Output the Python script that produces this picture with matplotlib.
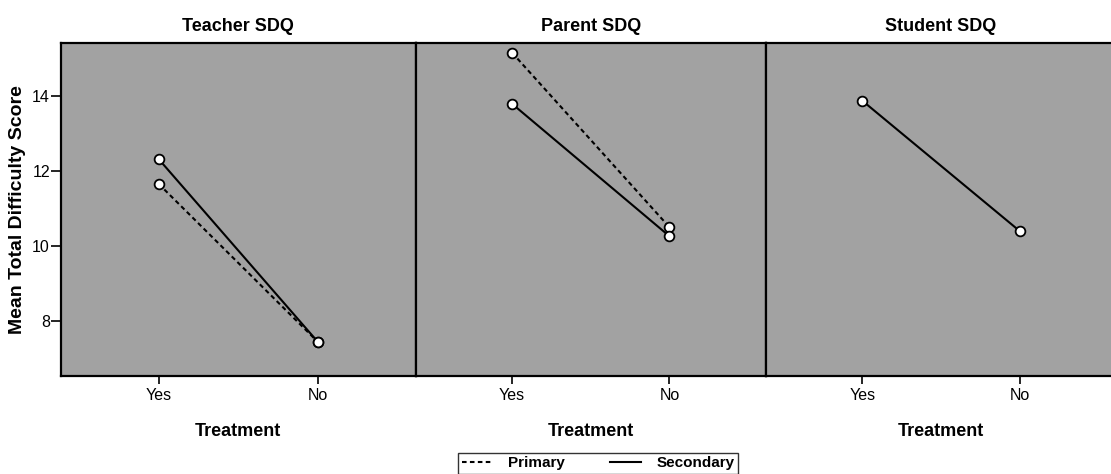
import matplotlib
matplotlib.use("Agg")
import matplotlib.pyplot as plt
from matplotlib.lines import Line2D

# ---- data ----
panels = ["Teacher SDQ", "Parent SDQ", "Student SDQ"]
treatment = ["Yes", "No"]
primary = {
    "Teacher SDQ": [11.65, 7.45],
    "Parent SDQ": [15.14, 10.50],
    "Student SDQ": None,
}
secondary = {
    "Teacher SDQ": [12.31, 7.45],
    "Parent SDQ": [13.78, 10.26],
    "Student SDQ": [13.86, 10.40],
}
yticks = [8, 10, 12, 14]

plt.rcParams['font.family'] = ['Liberation Sans', 'DejaVu Sans']

W, H = 1111, 474
fig = plt.figure(figsize=(W / 100, H / 100), dpi=100)

bg = '#a2a2a2'
edges_px = [61, 415.5, 766, 1116]
top_px, bot_px = 43.3, 375.7

x = [0, 1]
dash = (0, (2.2, 1.6))
for i, name in enumerate(panels):
    l = edges_px[i] / W
    b = 1 - bot_px / H
    w = (edges_px[i + 1] - edges_px[i]) / W
    h = (bot_px - top_px) / H
    ax = fig.add_axes([l, b, w, h])
    ax.set_facecolor(bg)
    ax.set_xlim(-0.614, 1.614)
    ax.set_ylim(6.55, 15.39)
    if primary[name] is not None:
        ax.plot(x, primary[name], color='black', lw=1.5, linestyle=dash,
                marker='o', markersize=7, markerfacecolor='white',
                markeredgecolor='black', markeredgewidth=1.3, zorder=3)
    if secondary[name] is not None:
        ax.plot(x, secondary[name], color='black', lw=1.5, linestyle='-',
                marker='o', markersize=7, markerfacecolor='white',
                markeredgecolor='black', markeredgewidth=1.3, zorder=3)
    ax.set_xticks(x)
    ax.set_xticklabels(treatment, fontsize=11.5)
    ax.tick_params(axis='x', direction='out', length=6, width=1.2, pad=3)
    if i == 0:
        ax.set_yticks(yticks)
        ax.set_yticklabels([str(v) for v in yticks], fontsize=11.5)
        ax.tick_params(axis='y', direction='out', length=7, width=1.2, pad=1)
        ax.set_ylabel("Mean Total Difficulty Score", fontsize=14, fontweight='bold', labelpad=4)
    else:
        ax.set_yticks([])
    ax.set_xlabel("Treatment", fontsize=13, fontweight='bold', labelpad=14)
    ax.set_title(name, fontsize=13, fontweight='bold', pad=9)
    for s in ax.spines.values():
        s.set_color('black')
        s.set_linewidth(1.6)

handles = [
    Line2D([0], [0], color='black', lw=1.5, linestyle=dash),
    Line2D([0], [0], color='black', lw=1.5, linestyle='-'),
]
leg = fig.legend(handles, ["Primary", "Secondary"], loc='upper center',
                 bbox_to_anchor=(598 / W, 1 - 452.5 / H), ncol=2, frameon=True,
                 fancybox=False, edgecolor='black',
                 prop={'weight': 'bold', 'size': 11}, handlelength=2.0,
                 columnspacing=3.0, borderpad=0.25, handletextpad=1.0,
                 borderaxespad=0)
leg.get_frame().set_linewidth(1.0)

fig.savefig("out.png", dpi=100, facecolor='white')
